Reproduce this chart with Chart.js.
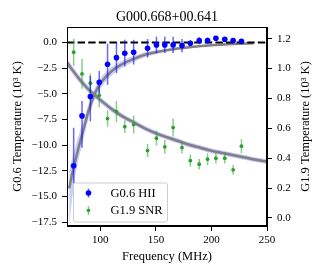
<!DOCTYPE html>
<html>
<head>
<meta charset="utf-8">
<script src="https://cdn.jsdelivr.net/npm/chart.js@4.4.1/dist/chart.umd.min.js"></script>
<style>
  html, body { margin: 0; padding: 0; background: #fff; }
  canvas { display: block; }
</style>
</head>
<body>
<canvas id="chart" width="318" height="272"></canvas>
<script>
// measured frequencies (MHz), shared by both sources
const freq = [76, 83.5, 91, 99, 106.5, 114.5, 122, 130, 142.5, 150.5, 158, 165.5, 173.5, 181, 189, 196.5, 204, 212, 219.5, 227];

// G0.6 HII (left axis, 10^3 K)
const hiiTemp = [-12.0, -7.15, -5.27, -3.87, -2.12, -1.48, -1.05, -0.95, -0.57, -0.24, -0.24, -0.24, -0.31, -0.08, 0.18, 0.18, 0.40, 0.30, 0.18, 0.12];
const hiiErrLo = [1.7, 3.1, 2.4, 1.1, 2.0, 1.5, 1.3, 1.2, 0.9, 0.8, 0.8, 0.8, 0.65, 0.3, 0.35, 0.3, 0.25, 0.2, 0.15, 0.1];
const hiiErrHi = [3.7, 1.45, 2.0, 1.1, 2.0, 1.5, 1.3, 1.2, 0.9, 0.8, 0.8, 0.8, 0.65, 0.3, 0.35, 0.3, 0.25, 0.2, 0.15, 0.1];

// G1.9 SNR (right axis, 10^3 K)
const snrTemp = [1.109, 0.964, 0.902, 0.821, 0.665, 0.712, 0.611, 0.625, 0.451, 0.534, 0.476, 0.605, 0.471, 0.384, 0.36, 0.393, 0.40, 0.40, 0.322, 0.48];
const snrErr = [0.09, 0.1, 0.065, 0.08, 0.055, 0.07, 0.042, 0.06, 0.045, 0.05, 0.045, 0.06, 0.04, 0.04, 0.035, 0.04, 0.035, 0.035, 0.033, 0.047];

// HII model curve and its band
const hiiModelFreq = [72, 74, 76, 78, 80, 85, 90, 95, 100, 110, 120, 130, 140, 150, 160, 180, 200, 220, 238];
const hiiModel = [-14.2, -13.1, -12.2, -11.3, -10.4, -8.4, -6.45, -5.0, -4.0, -2.8, -2.1, -1.6, -1.2, -0.95, -0.75, -0.46, -0.28, -0.16, -0.08];
const hiiBandHi = [-12.4, -11.5, -10.8, -10.0, -9.2, -7.5, -5.8, -4.45, -3.5, -2.4, -1.75, -1.3, -0.95, -0.75, -0.58, -0.35, -0.2, -0.1, -0.03];
const hiiBandLo = [-17.8, -15.8, -14.1, -12.7, -11.6, -9.35, -7.15, -5.55, -4.5, -3.25, -2.45, -1.9, -1.45, -1.15, -0.92, -0.57, -0.36, -0.22, -0.13];

// SNR model curve
const snrModelFreq = [70, 80, 90, 100, 110, 120, 130, 140, 150, 160, 170, 180, 190, 200, 210, 220, 230, 240, 250];
const snrModel = [1.04, 0.94, 0.855, 0.79, 0.73, 0.68, 0.64, 0.60, 0.567, 0.54, 0.515, 0.49, 0.47, 0.45, 0.435, 0.42, 0.405, 0.39, 0.377];

// axes
const xLimits = [70, 250];
const xTicks = [100, 150, 200, 250];
const yLimits = [-17.86, 1.5];
const yTicks = [-17.5, -15, -12.5, -10, -7.5, -5, -2.5, 0];
const y2Limits = [-0.054, 1.278];
const y2Ticks = [0, 0.2, 0.4, 0.6, 0.8, 1.0, 1.2];
const zeroLevel = 0;

const FONT = 'Liberation Serif';
const pts = (xs, ys) => xs.map((x, i) => ({ x, y: ys[i] }));
const fmt = v => v.toFixed(1).replace('-', '\u2212');

const errorBars = {
    id: 'errorBars',
    beforeDatasetDraw(chart, args) {
        const ds = chart.data.datasets[args.index];
        if (!ds.errLo) return;
        const { ctx, chartArea: a } = chart;
        const xs = chart.scales.x, ys = chart.scales[ds.yAxisID];
        ctx.save();
        ctx.beginPath();
        ctx.rect(a.left, a.top, a.right - a.left, a.bottom - a.top);
        ctx.clip();
        ctx.strokeStyle = ds.errColor;
        ctx.lineWidth = 1.5;
        ds.data.forEach((p, i) => {
            const px = xs.getPixelForValue(p.x);
            ctx.beginPath();
            ctx.moveTo(px, ys.getPixelForValue(p.y - ds.errLo[i]));
            ctx.lineTo(px, ys.getPixelForValue(p.y + ds.errHi[i]));
            ctx.stroke();
        });
        ctx.restore();
    }
};

const frameAndExtras = {
    id: 'frameAndExtras',
    afterDraw(chart) {
        const { ctx, chartArea: a } = chart;
        ctx.save();
        // box
        ctx.strokeStyle = '#000';
        ctx.lineWidth = 1;
        ctx.strokeRect(a.left + 0.5, a.top + 0.5, a.right - a.left - 1, a.bottom - a.top - 1);

        // legend
        const bx = a.left + 6, by = a.bottom - 43.5, bw = 94, bh = 39;
        ctx.fillStyle = 'rgba(255,255,255,0.8)';
        ctx.strokeStyle = '#cccccc';
        ctx.beginPath();
        ctx.roundRect(bx + 0.5, by + 0.5, bw, bh, 2);
        ctx.fill();
        ctx.stroke();
        const rows = [
            { label: 'G0.6 HII', color: '#0000ff', bar: 'rgba(0,0,255,0.6)', r: 2.8 },
            { label: 'G1.9 SNR', color: '#2ca02c', bar: 'rgba(44,160,44,0.55)', r: 1.8 }
        ];
        ctx.font = `12.5px "${FONT}"`;
        ctx.textBaseline = 'middle';
        rows.forEach((row, i) => {
            const cy = by + 10.5 + i * 17.5;
            const cx = bx + 15.5;
            ctx.strokeStyle = row.bar;
            ctx.lineWidth = 1.5;
            ctx.beginPath();
            ctx.moveTo(cx, cy - 4.5);
            ctx.lineTo(cx, cy + 4.5);
            ctx.stroke();
            ctx.fillStyle = row.color;
            ctx.beginPath();
            ctx.arc(cx, cy, row.r, 0, Math.PI * 2);
            ctx.fill();
            ctx.fillStyle = '#000';
            ctx.fillText(row.label, bx + 37.5, cy + 0.5);
        });

        // right axis title, reading bottom to top
        ctx.translate(a.right + 39, (a.top + a.bottom) / 2);
        ctx.rotate(-Math.PI / 2);
        ctx.textAlign = 'center';
        ctx.fillStyle = '#000';
        ctx.fillText('G1.9 Temperature (10\u00b3 K)', 0, 0);
        ctx.restore();
    }
};

const axisGrid = { drawOnChartArea: false, drawTicks: true, tickLength: 5, tickColor: '#000', tickWidth: 1 };
const tickFont = { family: FONT, size: 11 };

new Chart(document.getElementById('chart'), {
    type: 'scatter',
    data: {
        datasets: [
            {
                label: 'G0.6 HII',
                data: pts(freq, hiiTemp),
                errLo: hiiErrLo, errHi: hiiErrHi, errColor: 'rgba(0,0,255,0.6)',
                yAxisID: 'y',
                backgroundColor: '#0000ff', borderWidth: 0, pointRadius: 2.8
            },
            {
                label: 'G1.9 SNR',
                data: pts(freq, snrTemp),
                errLo: snrErr, errHi: snrErr, errColor: 'rgba(44,160,44,0.55)',
                yAxisID: 'y2',
                backgroundColor: '#2ca02c', borderWidth: 0, pointRadius: 1.9
            },
            {
                type: 'line',
                data: xLimits.map(x => ({ x, y: zeroLevel })),
                yAxisID: 'y',
                borderColor: '#000', borderWidth: 2, borderDash: [7.4, 3.2],
                pointRadius: 0, fill: false
            },
            {
                type: 'line',
                data: pts(hiiModelFreq, hiiModel),
                yAxisID: 'y',
                borderColor: '#808080', borderWidth: 2.5, pointRadius: 0,
                cubicInterpolationMode: 'monotone', fill: false
            },
            {
                type: 'line',
                data: pts(snrModelFreq, snrModel),
                yAxisID: 'y2',
                borderColor: '#808080', borderWidth: 2.5, pointRadius: 0,
                cubicInterpolationMode: 'monotone', fill: false
            },
            {
                type: 'line',
                data: pts(snrModelFreq, snrModel),
                yAxisID: 'y2',
                borderColor: 'rgba(90,90,255,0.35)', borderWidth: 4.5, pointRadius: 0,
                cubicInterpolationMode: 'monotone', fill: false
            },
            {
                type: 'line',
                data: pts(hiiModelFreq, hiiBandLo),
                yAxisID: 'y',
                borderWidth: 0, borderColor: 'rgba(0,0,0,0)', pointRadius: 0,
                cubicInterpolationMode: 'monotone', fill: false
            },
            {
                type: 'line',
                data: pts(hiiModelFreq, hiiBandHi),
                yAxisID: 'y',
                borderWidth: 0, borderColor: 'rgba(0,0,0,0)', pointRadius: 0,
                cubicInterpolationMode: 'monotone',
                fill: '-1', backgroundColor: 'rgba(0,0,255,0.2)'
            }
        ]
    },
    options: {
        responsive: false,
        animation: false,
        events: [],
        layout: { padding: 0 },
        plugins: {
            legend: { display: false },
            tooltip: { enabled: false },
            title: {
                display: true,
                fullSize: false,
                text: 'G000.668+00.641',
                color: '#000',
                font: { family: FONT, size: 14, weight: 'normal' },
                padding: { top: 8.5, bottom: 1.7 }
            }
        },
        scales: {
            x: {
                type: 'linear',
                min: xLimits[0], max: xLimits[1],
                afterFit: s => { s.height = 46; },
                afterBuildTicks: s => { s.ticks = xTicks.map(value => ({ value })); },
                grid: axisGrid,
                border: { color: '#000', width: 1 },
                ticks: { color: '#000', font: tickFont, padding: 3, maxRotation: 0, callback: v => String(v) },
                title: { display: true, text: 'Frequency (MHz)', color: '#000', font: { family: FONT, size: 12.5 }, padding: { top: 0, bottom: 7.5 } }
            },
            y: {
                type: 'linear',
                position: 'left',
                min: yLimits[0], max: yLimits[1],
                afterFit: s => { s.width = 67; },
                afterBuildTicks: s => { s.ticks = yTicks.map(value => ({ value })); },
                grid: axisGrid,
                border: { color: '#000', width: 1 },
                ticks: { color: '#000', font: tickFont, padding: 5, callback: v => fmt(v) },
                title: { display: true, text: 'G0.6 Temperature (10\u00b3 K)', color: '#000', font: { family: FONT, size: 12.5 }, padding: { top: 10.5, bottom: 0 } }
            },
            y2: {
                type: 'linear',
                position: 'right',
                min: y2Limits[0], max: y2Limits[1],
                afterFit: s => { s.width = 51; },
                afterBuildTicks: s => { s.ticks = y2Ticks.map(value => ({ value })); },
                grid: axisGrid,
                border: { color: '#000', width: 1 },
                ticks: { color: '#000', font: tickFont, padding: 5, callback: v => fmt(v) }
            }
        }
    },
    plugins: [errorBars, frameAndExtras]
});
</script>
</body>
</html>
